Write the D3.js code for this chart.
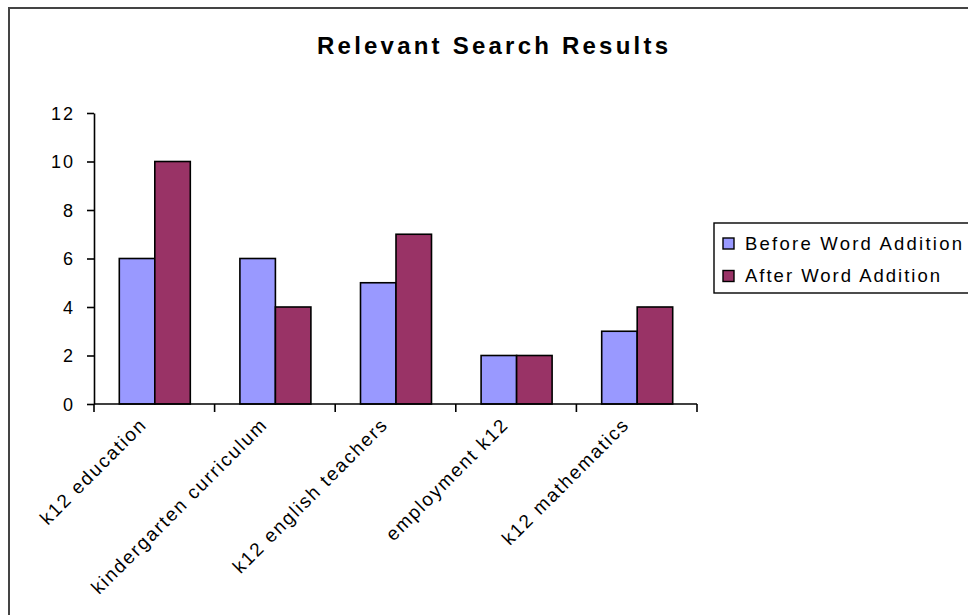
<!DOCTYPE html>
<html>
<head>
<meta charset="utf-8">
<script src="https://cdn.jsdelivr.net/npm/d3@7"></script>
<style>
  html, body { margin: 0; padding: 0; background: #fff; }
  svg { display: block; }
  text { font-family: "Liberation Sans", Arial, sans-serif; fill: #000; }
</style>
</head>
<body>
<svg id="chart" width="968" height="615"></svg>
<script>
// Relevant search results per query, before and after adding a word
const categories = ["k12 education", "kindergarten curriculum", "k12 english teachers", "employment k12", "k12 mathematics"];
const seriesNames = ["Before Word Addition", "After Word Addition"];
const beforeValues = [6, 6, 5, 2, 3];
const afterValues = [10, 4, 7, 2, 4];
const yTicks = [0, 2, 4, 6, 8, 10, 12];
const colors = ["#9999FF", "#993366"];

const svg = d3.select("#chart");

// Outer chart frame (runs off the right and bottom edges)
svg.append("rect")
  .attr("x", 9).attr("y", 8)
  .attr("width", 1000).attr("height", 700)
  .attr("fill", "#fff")
  .attr("stroke", "#444").attr("stroke-width", 2);

// Title
svg.append("text")
  .attr("x", 317).attr("y", 54)
  .attr("textLength", 351)
  .attr("lengthAdjust", "spacing")
  .style("font-weight", "bold")
  .style("font-size", "24px")
  .text("Relevant Search Results");

const plot = { left: 94, right: 697, top: 113, bottom: 404 };

const x = d3.scaleBand()
  .domain(categories)
  .range([plot.left, plot.right])
  .paddingInner(0)
  .paddingOuter(0);

const y = d3.scaleLinear()
  .domain([0, 12])
  .range([plot.bottom, plot.top]);

const barW = 35.5;
const series = [beforeValues, afterValues];

const g = svg.append("g");

series.forEach((vals, si) => {
  g.selectAll(null)
    .data(categories.map((c, i) => ({ c, v: vals[i] })))
    .enter().append("rect")
    .attr("x", d => x(d.c) + x.bandwidth() / 2 - barW + si * barW + 0.5)
    .attr("y", d => y(d.v))
    .attr("width", barW)
    .attr("height", d => y(0) - y(d.v))
    .attr("fill", colors[si])
    .attr("stroke", "#000")
    .attr("stroke-width", 1.6);
});

// Y axis
const yAxis = svg.append("g")
  .attr("transform", `translate(${plot.left},0)`)
  .call(d3.axisLeft(y).tickValues(yTicks).tickSize(7).tickPadding(12).tickSizeOuter(0));
yAxis.select(".domain").attr("stroke", "#000").attr("stroke-width", 1.6);
yAxis.selectAll(".tick line").attr("stroke", "#000").attr("stroke-width", 1.6);
yAxis.selectAll(".tick text")
  .style("font-size", "18px")
  .style("font-family", "'Liberation Sans', Arial, sans-serif")
  .style("letter-spacing", "2px")
  .attr("fill", "#000")
  .attr("dy", "0.35em");

// X axis: baseline with boundary ticks between categories
svg.append("line")
  .attr("x1", plot.left).attr("x2", plot.right)
  .attr("y1", plot.bottom).attr("y2", plot.bottom)
  .attr("stroke", "#000").attr("stroke-width", 1.6);

const boundaries = categories.map(c => x(c)).concat([x(categories[categories.length - 1]) + x.bandwidth()]);
svg.selectAll(null)
  .data(boundaries)
  .enter().append("line")
  .attr("x1", d => d).attr("x2", d => d)
  .attr("y1", plot.bottom).attr("y2", plot.bottom + 8)
  .attr("stroke", "#000").attr("stroke-width", 1.6);

// Rotated category labels
svg.selectAll(null)
  .data(categories)
  .enter().append("text")
  .attr("transform", d => `translate(${x(d) + x.bandwidth() / 2 - 11},${plot.bottom + 17}) rotate(-45)`)
  .attr("text-anchor", "end")
  .attr("dy", "0.35em")
  .style("font-size", "19px")
  .style("letter-spacing", "1.8px")
  .text(d => d);

// Legend
const legendWidths = [217, 195];
const legend = svg.append("g").attr("transform", "translate(714,223)");
legend.append("rect")
  .attr("width", 300).attr("height", 70)
  .attr("fill", "#fff").attr("stroke", "#000").attr("stroke-width", 1.4);

seriesNames.forEach((name, i) => {
  const row = legend.append("g").attr("transform", `translate(9,${20.5 + i * 32.5})`);
  row.append("rect")
    .attr("x", 0).attr("y", -5.5)
    .attr("width", 11).attr("height", 11)
    .attr("fill", colors[i]).attr("stroke", "#000").attr("stroke-width", 1.4);
  row.append("text")
    .attr("x", 22).attr("y", 0)
    .attr("dy", "0.35em")
    .attr("textLength", legendWidths[i])
    .attr("lengthAdjust", "spacing")
    .style("font-size", "18.5px")
    .text(name);
});
</script>
</body>
</html>
